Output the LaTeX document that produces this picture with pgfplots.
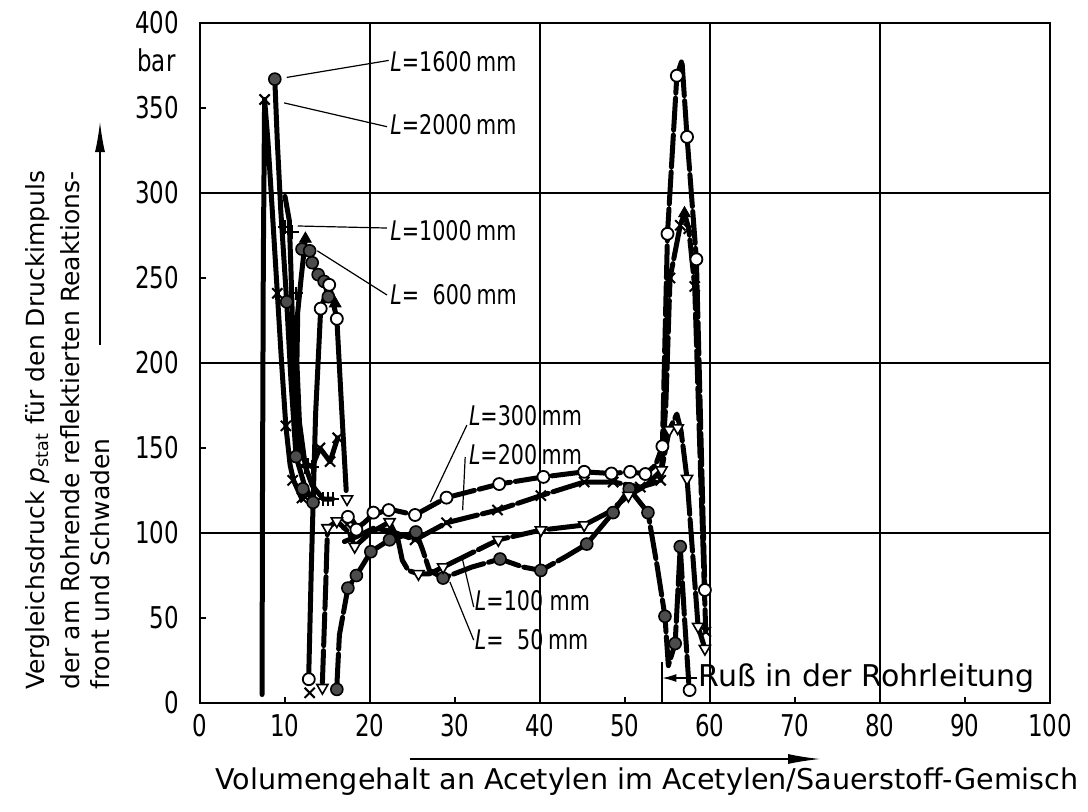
\documentclass[border=0pt]{standalone}
\usepackage{fontspec}
\setmainfont{DejaVu Sans}
\newfontfamily\condfont{DejaVu Sans Condensed}
\newfontfamily\narrowfont{DejaVu Sans Condensed}[FakeStretch=0.85]
\usepackage{pgfplots}
\pgfplotsset{compat=1.18}
\usetikzlibrary{arrows.meta}

\pgfplotsset{
  cv/.style={black, line width=2.5pt, line join=round, line cap=round, no markers},
  dcv/.style={cv, dash pattern=on 16pt off 2.5pt},
  mX/.style={only marks, mark=x, mark size=3.6pt, mark options={black, line width=1pt}},
  mP/.style={only marks, mark=+, mark size=3.4pt, mark options={black, line width=1pt}},
  mO/.style={only marks, mark=*, mark size=3pt, mark options={draw=black, fill=white, line width=0.9pt}},
  mF/.style={only marks, mark=*, mark size=3pt, mark options={draw=black, fill=black!70, line width=0.8pt}},
  mT/.style={only marks, mark=triangle*, mark size=3.2pt, mark options={rotate=180, draw=black, fill=white, line width=0.8pt}},
  mTF/.style={only marks, mark=triangle*, mark size=3.4pt, mark options={draw=black, fill=black}},
}
\tikzset{
  lab/.style={anchor=west, inner sep=0pt, font=\narrowfont\fontsize{13.5}{14}\selectfont},
  lead/.style={black, line width=0.6pt},
}

\begin{document}
\begin{tikzpicture}
\path[use as bounding box] (-100pt,-54pt) rectangle (444pt,351.5pt);
\begin{axis}[
    at={(0,0)}, anchor=south west,
    scale only axis, width=425pt, height=340pt,
    xmin=0, xmax=100, ymin=0, ymax=400,
    xtick={0,20,...,100}, extra x ticks={10,30,50,70,90},
    ytick={0,100,...,400}, extra y ticks={50,150,250,350},
    grid=major,
    extra x tick style={grid=none}, extra y tick style={grid=none},
    major grid style={black, line width=0.6pt},
    axis line style={black, line width=1pt},
    tick style={black, line width=0.8pt},
    tick align=inside, major tick length=3pt,
    xtick pos=left, ytick pos=left,
    tick label style={font=\narrowfont\fontsize{15}{16}\selectfont},
    /pgf/number format/assume math mode=true,
    yticklabel style={xshift=-7pt},
    xticklabel style={yshift=-2pt},
    clip=false,
]

% ---- curves (thick lines) ----
% left spikes
\addplot[cv] coordinates {(7.3,5) (7.35,120) (7.45,260) (7.6,355) (8.0,330) (8.5,290) (9.1,241) (9.6,200) (10.1,163) (10.6,140) (11,131) (12,120)};
\addplot[cv] coordinates {(8.8,367) (9.1,330) (9.5,290) (10.2,236) (10.7,190) (11.3,145) (12.3,128) (13.3,118)};
\addplot[cv] coordinates {(10.0,298) (10.5,284) (10.7,255) (10.9,220) (11.1,190) (11.4,160) (12.0,145) (12.7,140) (13.2,139) (14.1,150) (15.3,142) (16.2,156)};
\addplot[cv] coordinates {(12.4,273) (11.9,250) (11.5,230) (11.4,200) (11.7,165) (12.4,139) (13.2,128) (14.5,120) (15.6,120)};
% L = 600 mm
\addplot[cv, dash pattern=on 5pt off 3pt] coordinates {(12.0,267) (12.9,266) (13.2,259) (13.9,252) (14.6,248) (15.1,239) (15.9,235)};
% open circles
\addplot[cv] coordinates {(12.8,18) (13.1,80) (13.6,170) (14.2,232) (15.2,246) (16.1,226) (16.7,170) (17.2,125)};
\addplot[dcv] coordinates {(17.6,110) (18.5,103) (19.3,106) (20.3,110.6) (22.3,114) (25.3,110.6) (29,120.8) (35.2,128.8) (40.4,133) (45.2,136) (48.4,135) (50.6,136) (52.4,134.7) (53.6,140) (54.4,151) (55,276) (56.1,369) (56.7,378) (57.3,333) (58.4,261) (59.4,66.5)};
% L = 200 mm
\addplot[dcv] coordinates {(17,95) (18.5,98) (20.5,103) (22.5,101) (25.3,96) (29,106) (35,113.5) (40.1,122) (45.2,130) (48.6,130) (51.8,127) (53.2,129) (54.2,131) (54.8,175) (55.3,250) (56.5,281) (57,288) (57.5,279) (58.2,245) (58.8,150) (59.5,42)};
% L = 100 mm
\addplot[dcv] coordinates {(14.4,12) (14.8,70) (15,103) (16.1,107) (17.6,100) (18.2,92) (20,100) (22.3,106.5) (23.3,96) (23.8,84) (24.5,78) (25.7,76) (27,76) (28.6,80) (35.1,96) (40.1,101.7) (45.2,104.7) (48,112) (50.4,122) (52.5,128) (54.3,137) (55.2,160.6) (56.1,170) (56.6,160) (57.3,132) (58.6,45) (59.4,32)};
% L = 50 mm
\addplot[dcv] coordinates {(16.1,10) (16.4,40) (17.4,67.6) (18.4,75) (20.1,89) (22.3,96) (25.4,100.6) (26.2,90) (27,78) (28.6,73.5) (32,80) (35.3,84.7) (38,80) (40.1,78) (43,86) (45.5,93.5) (48.6,112) (50.5,126) (52.7,112) (53.8,80) (54.7,51) (55.1,22) (55.9,35) (56.5,92) (57,50) (57.5,12)};

% ---- markers ----
\addplot[mX] coordinates {(7.6,355) (9.1,241) (10.1,163) (10.9,131) (12,120.6) (12.4,121) (12.9,6) (14.1,150) (15.3,142) (16.2,156) (17.3,105) (25.3,96) (29,106) (35,113.5) (40.1,122) (45.2,130) (48.6,130) (51.8,127) (54.2,131) (55.3,250) (56.5,281) (57.5,279) (58.2,245) (59.5,42)};
\addplot[mP] coordinates {(10,280) (10.8,277) (11.3,241) (12.4,139) (12.7,140) (13.2,139) (14.5,120) (15.1,120) (15.6,120)};
\addplot[mF] coordinates {(8.8,367) (10.2,236) (11.3,145) (12.1,126) (13.3,118) (12.0,267) (12.9,266) (13.2,259) (13.9,252) (14.6,248) (15.1,239) (16.1,8) (17.4,67.6) (18.4,75) (20.1,89) (22.3,96) (25.4,100.6) (28.6,73.5) (35.3,84.7) (40.1,78) (45.5,93.5) (48.6,112) (50.5,126) (52.7,112) (54.7,51) (55.9,35) (56.5,92)};
\addplot[mO] coordinates {(12.8,14) (14.2,232) (15.2,246) (16.1,226) (17.4,109.5) (18.4,102) (20.4,112) (22.2,113.5) (25.3,110.6) (29,120.8) (35.2,128.8) (40.4,133) (45.2,136) (48.4,135) (50.6,136) (52.4,134.7) (54.4,151) (55,276) (56.1,369) (57.3,333) (58.4,261) (59.4,66.5) (57.6,7.6)};
\addplot[mT] coordinates {(14.4,9) (15,103) (16.1,107) (17.3,120) (18.2,92) (22.3,106.5) (25.7,76) (28.6,80) (35.1,96) (40.1,101.7) (45.2,104.7) (50.4,122) (54.3,137) (55.2,160.6) (56.2,161.7) (57.3,132) (58.6,45) (59.4,32)};
\addplot[mTF] coordinates {(12.4,273) (15.9,235) (57,288)};

% ---- labels and leaders ----
\draw[lead] (axis cs:22.2,378) -- (axis cs:10.2,368);
\draw[lead] (axis cs:22.0,339) -- (axis cs:9.9,353);
\draw[lead] (axis cs:22.0,279.4) -- (axis cs:11.5,280.6);
\draw[lead] (axis cs:22.0,240) -- (axis cs:13.8,266);
\draw[lead] (axis cs:31.4,163.5) -- (axis cs:27.1,118.2);
\draw[lead] (axis cs:31.2,144.7) -- (axis cs:30.9,113.5);
\draw[lead] (axis cs:32.2,56.5) -- (axis cs:30.9,84.1);
\draw[lead] (axis cs:32.2,37) -- (axis cs:29.4,71.2);
\node[lab] at (axis cs:22.35,377) {\textit{L}=1600\,mm};
\node[lab] at (axis cs:22.35,340) {\textit{L}=2000\,mm};
\node[lab] at (axis cs:22.35,278) {\textit{L}=1000\,mm};
\node[lab] at (axis cs:22.35,240) {\textit{L}=\enspace600\,mm};
\node[lab] at (axis cs:31.6,169) {\textit{L}=300\,mm};
\node[lab] at (axis cs:31.6,146) {\textit{L}=200\,mm};
\node[lab] at (axis cs:32.3,60) {\textit{L}=100 mm};
\node[lab] at (axis cs:32.3,37) {\textit{L}=\enspace 50\,mm};

% soot mark
\draw[black, line width=0.6pt] (axis cs:54.35,0) -- (axis cs:54.35,24);
\draw[black, line width=0.6pt, -{Latex[length=7pt,width=4pt]}] (axis cs:58.5,14.7) -- (axis cs:54.4,14.7);
\node[anchor=west, inner sep=0pt, font=\fontsize{15}{16}\selectfont] at (axis cs:58.6,14.7) {Ruß in der Rohrleitung};
\end{axis}

% unit under 400
\node[anchor=west, inner sep=0pt, font=\narrowfont\fontsize{15}{16}\selectfont] at (-31.5pt,321.5pt) {bar};

% y axis description
\node[rotate=90, anchor=west, inner sep=0pt, font=\fontsize{12.5}{15}\selectfont] at (-81pt,6.5pt) {Vergleichsdruck {\itshape p}\textsubscript{stat} für den Druckimpuls};
\node[rotate=90, anchor=west, inner sep=0pt, font=\fontsize{12.5}{15}\selectfont] at (-65pt,6.5pt) {der am Rohrende reflektierten Reaktions-};
\node[rotate=90, anchor=west, inner sep=0pt, font=\fontsize{12.5}{15}\selectfont] at (-50pt,6.5pt) {front und Schwaden};
\draw[black, line width=0.6pt, -{Latex[length=15pt,width=5pt]}] (-50pt,179pt) -- (-50pt,290.5pt);

% x axis description
\draw[black, line width=0.6pt, -{Latex[length=16pt,width=5pt]}] (105pt,-28pt) -- (310pt,-28pt);
\node[font=\fontsize{14.3}{16}\selectfont] at (223.5pt,-39.5pt) {Volumengehalt an Acetylen im Acetylen/Sauerstoff-Gemisch};
\end{tikzpicture}
\end{document}
